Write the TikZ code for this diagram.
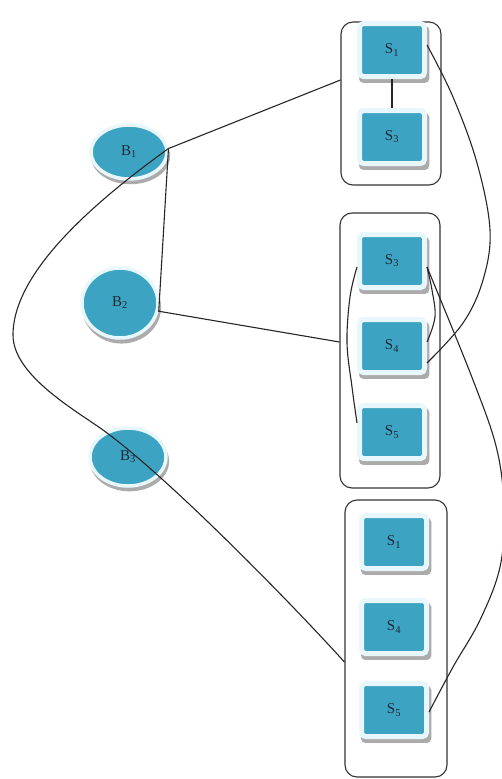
\documentclass[tikz,border=0pt]{standalone}
\usepackage{fontspec}
\setmainfont{Liberation Serif}
\usetikzlibrary{shapes.geometric,shadows}
\definecolor{tealf}{RGB}{60,164,194}
\definecolor{framec}{RGB}{232,247,251}
\definecolor{txt}{RGB}{30,40,55}
\definecolor{shd}{RGB}{150,150,150}
\begin{document}
\begin{tikzpicture}[x=1pt,y=-1pt,
  grp/.style={draw=black!80, line width=1.1pt, rounded corners=12pt, minimum width=100pt, inner sep=0pt},
  snode/.style={rectangle, rounded corners=4pt, fill=tealf, draw=framec, line width=5pt,
    minimum width=65pt, minimum height=53pt, inner sep=0pt, text=txt,
    font=\fontsize{15}{17}\selectfont,
    drop shadow={shadow xshift=2pt, shadow yshift=-4pt, shadow scale=1.08, fill=shd, opacity=0.8}},
  bnode/.style={ellipse, fill=tealf, draw=framec, line width=3.5pt, inner sep=0pt, text=txt,
    font=\fontsize{15}{17}\selectfont,
    drop shadow={shadow xshift=1.5pt, shadow yshift=-4pt, shadow scale=1.04, fill=shd, opacity=0.8}},
  conn/.style={draw=black!85, line width=1.1pt}
]
\useasboundingbox (0,0) rectangle (502,779);
\fill[white] (0,0) rectangle (502,779);

% group boxes
\node[grp, minimum height=163pt] (G1) at (391,103.5) {};
\node[grp, minimum height=275pt] (G2) at (390,350.5) {};
\node[grp, minimum width=102pt, minimum height=277pt] (G3) at (396,638.5) {};

% S nodes
\node[snode] (S1a) at (392,50) {S\textsubscript{1}};
\node[snode] (S3a) at (392,137) {S\textsubscript{3}};
\node[snode] (S3b) at (392,261) {S\textsubscript{3}};
\node[snode] (S4b) at (392,346) {S\textsubscript{4}};
\node[snode] (S5b) at (392,432) {S\textsubscript{5}};
\node[snode] (S1c) at (394,542) {S\textsubscript{1}};
\node[snode] (S4c) at (394,627) {S\textsubscript{4}};
\node[snode] (S5c) at (394,710) {S\textsubscript{5}};

% B nodes
\node[bnode, minimum width=76pt, minimum height=54pt] (B1) at (129,152) {B\textsubscript{1}};
\node[bnode, minimum width=76pt, minimum height=70pt] (B2) at (120,303) {B\textsubscript{2}};
\node[bnode, minimum width=76pt, minimum height=58pt] (B3) at (128,457) {B\textsubscript{3}};

% connector end points
\coordinate (g1in) at ([yshift=23.5pt]G1.west);
\coordinate (g2in) at ([yshift=8.5pt]G2.west);
\coordinate (g3in) at ([yshift=-23.5pt]G3.west);
\coordinate (s1r) at ([yshift=5pt]S1a.east);
\coordinate (s4r) at ([yshift=-17pt]S4b.east);
\coordinate (s4rb) at ([yshift=4pt]S4b.east);
\coordinate (s3r) at ([yshift=-6pt]S3b.east);
\coordinate (s3l) at ([yshift=-6pt]S3b.west);
\coordinate (s5l) at ([yshift=9pt]S5b.west);
\coordinate (s5cr) at ([yshift=-2pt]S5c.east);
\coordinate (w1) at (13,335);
\coordinate (w2) at (103,430);

% connectors
\draw[conn] (B1.5) -- (g1in);
\draw[conn] (B1.5) -- (B2.-12) -- (g2in);
\draw[conn] (B1.5) .. controls (100,198) and (13,270) .. (w1)
  .. controls (13,375) and (75,410) .. (w2)
  .. controls (168,477) and (291,603) .. (g3in);
\draw[conn] (S1a.south) -- (S3a.north);
\draw[conn] plot[smooth, tension=0.6] coordinates {(s1r) (453,97) (477,163) (490,230) (483,280) (463,323) (s4r)};
\draw[conn] plot[smooth, tension=0.6] coordinates {(s3r) (473,380) (497,450) (504,510) (500,567) (480,620) (453,667) (s5cr)};
\draw[conn] plot[smooth, tension=0.6] coordinates {(s3l) (350,297) (347,343) (352,387) (s5l)};
\draw[conn] plot[smooth, tension=0.6] coordinates {(s3r) (432,290) (435,317) (s4rb)};
\end{tikzpicture}
\end{document}
